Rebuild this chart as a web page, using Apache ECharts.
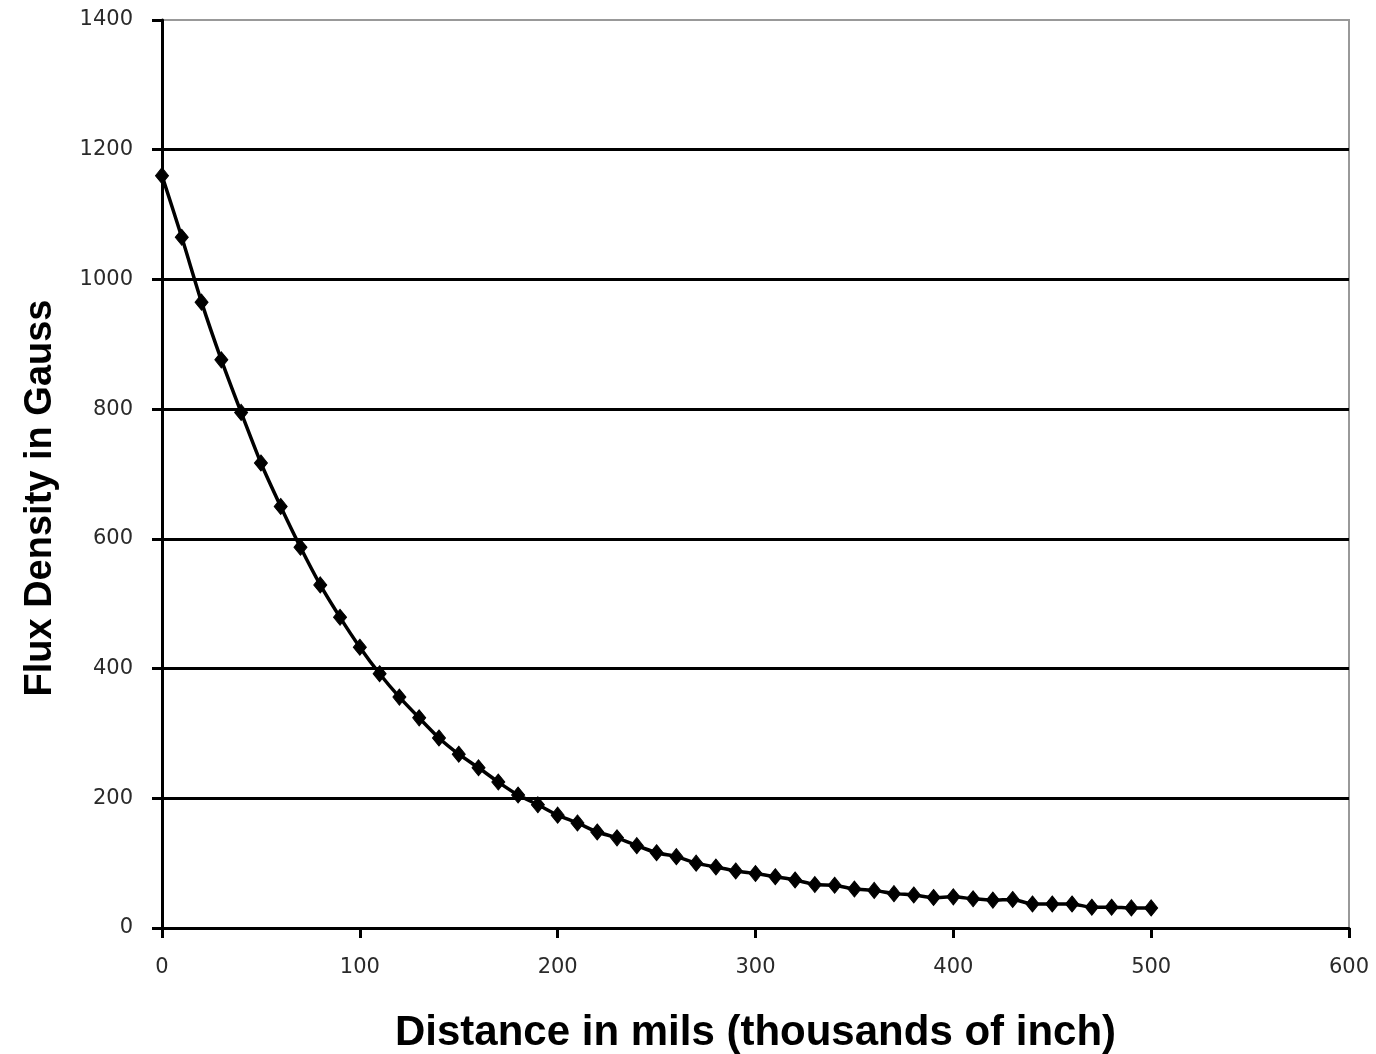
<!DOCTYPE html>
<html>
<head>
<meta charset="utf-8">
<script src="https://cdn.jsdelivr.net/npm/echarts@6/dist/echarts.min.js"></script>
<style>
html,body{margin:0;padding:0;background:#fff;}
#chart{width:1376px;height:1054px;}
</style>
</head>
<body>
<div id="chart"></div>
<script>
const distances = [0,10,20,30,40,50,60,70,80,90,100,110,120,130,140,150,160,170,180,190,200,210,220,230,240,250,260,270,280,290,300,310,320,330,340,350,360,370,380,390,400,410,420,430,440,450,460,470,480,490,500];
const fluxGauss = [1160,1065,965,876,795,717,650,587,529,479,433,392,356,324,293,268,247,225,205,190,174,162,148,139,127,116,110,100,94,88,84,79,74,67,66,60,58,53,51,47,48,45,43,44,37,37,37,32,32,31,31];
const xTicks = [0,100,200,300,400,500,600];
const yTicks = [0,200,400,600,800,1000,1200,1400];
const xTitle = 'Distance in mils (thousands of inch)';
const yTitle = 'Flux Density in Gauss';

const chart = echarts.init(document.getElementById('chart'));
const pts = distances.map((d, i) => [d, fluxGauss[i]]);
chart.setOption({
  animation: false,
  backgroundColor: '#fff',
  grid: {left: 162, right: 27, top: 20, bottom: 126, outerBoundsMode: 'none', containLabel: false, show: true, borderColor: '#999', borderWidth: 2, backgroundColor: 'transparent'},
  xAxis: {
    type: 'value', min: xTicks[0], max: xTicks[xTicks.length-1], interval: 100,
    name: xTitle, nameLocation: 'middle', nameGap: 84,
    nameTextStyle: {fontFamily: 'Liberation Sans', fontWeight: 'bold', fontSize: 42, color: '#000'},
    axisLine: {show: true, lineStyle: {color: '#000', width: 3}},
    axisTick: {show: true, inside: false, length: 10, lineStyle: {color: '#000', width: 3}},
    axisLabel: {margin: 29, fontFamily: 'DejaVu Sans', fontSize: 21, color: '#2a2a2a', formatter: v => String(v)},
    splitLine: {show: false}
  },
  yAxis: {
    type: 'value', min: yTicks[0], max: yTicks[yTicks.length-1], interval: 200,
    name: yTitle, nameLocation: 'middle', nameGap: 102, nameRotate: 90,
    nameTextStyle: {fontFamily: 'Liberation Sans', fontWeight: 'bold', fontSize: 38, color: '#000', padding: [0, 48, 0, 0]},
    axisLine: {show: true, lineStyle: {color: '#000', width: 3}},
    axisTick: {show: true, inside: false, length: 10, lineStyle: {color: '#000', width: 3}},
    axisLabel: {margin: 29, fontFamily: 'DejaVu Sans', fontSize: 21, color: '#2a2a2a', formatter: v => String(v)},
    splitLine: {show: true, showMinLine: false, showMaxLine: false, lineStyle: {color: '#000', width: 3}}
  },
  series: [{
    type: 'line',
    data: pts,
    smooth: 0.2,
    symbol: 'diamond',
    symbolSize: [13, 16],
    showAllSymbol: true,
    lineStyle: {color: '#000', width: 3.5},
    itemStyle: {color: '#000', borderColor: '#000'},
    z: 5
  }]
});
</script>
</body>
</html>
